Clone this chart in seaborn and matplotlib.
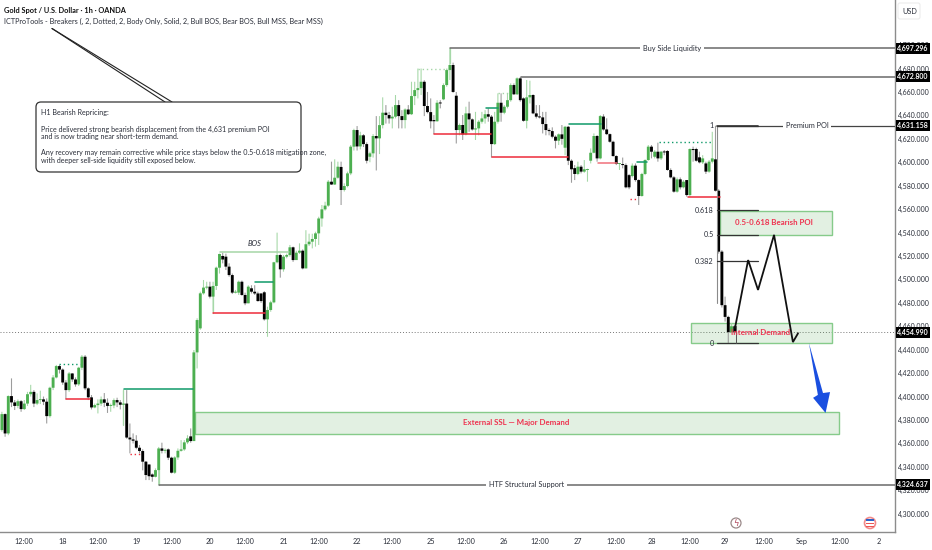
import numpy as np
import pandas as pd
import seaborn as sns
import matplotlib
matplotlib.use("Agg")
import matplotlib.pyplot as plt
from matplotlib.patches import Rectangle, FancyBboxPatch, Polygon, Circle

closes = [4385,4368.5,4400.4,4395,4392,4396,4389.3,4394,4402,4404,4394,4397,4397.6,4395.6,4383.3,4407.5,4416.3,4426,4423,4412,
 4405.5,4419.7,4414.6,4410.4,4424.6,4434,4407,4399.3,4390.7,4392.7,4394,4397.6,4394.7,4392,4392.4,4397,4395,4393,4394,4365,
 4363.4,4362.3,4356.3,4353.5,4344.4,4333,4332,4331.5,4337.2,4355.7,4353.7,4354,4347.8,4335,4348,4353.7,4354.9,4360.9,4364.3,4362,
 4437.7,4465.3,4488.1,4493,4493.8,4485.3,4494.4,4510,4521.7,4517,4510.9,4503.7,4488.7,4488.7,4498,4486.7,4479.6,4493.8,4489.5,4488,
 4481.5,4481.5,4465.9,4473.9,4480.4,4514.6,4520.8,4508.6,4519.4,4520.8,4527.4,4516.5,4522.8,4524.5,4509.4,4530,4532.2,4534.5,4539.3,4552,
 4559.8,4563,4583.4,4581,4586.8,4596.2,4576.3,4579.7,4590.5,4613.3,4627.5,4613.5,4623,4615.5,4601.3,4607.6,4622.4,4620.4,4631.7,4642.3,
 4640.3,4637.4,4638.9,4648.8,4639.4,4636,4645,4641,4656.5,4661.6,4663.3,4668.7,4648,4642.8,4635,4635,4650.8,4650.2,4665.9,4678.7,
 4683,4660,4627.5,4631.8,4623.8,4641.7,4636.6,4628,4628.9,4634.6,4637.4,4641,4638.9,4615.5,4634.6,4650.8,4642.3,4647.4,4653,4665.9,
 4658,4671.6,4653,4635.4,4655.4,4657.4,4641.7,4638.9,4638.3,4632.6,4627.5,4626.6,4621.8,4618.4,4623.8,4620,4630.3,4601.3,4594,4590,
 4596.2,4592,4594,4594,4608.1,4622.4,4603.3,4639.4,4628,4624,4617.5,4605.3,4598.5,4598.5,4597.6,4578.6,4578.6,4597.1,4584.8,4571.2,
 4590,4601.9,4613.3,4609,4609,4603.3,4609,4608.4,4593.4,4587.1,4574.9,4585.4,4578.6,4583.4,4572,4611.3,4610.4,4601.3,4599.9,4603.3,
 4592,4600.5,4603.3,4575.7,4523.7,4478,4468,4455,4460,4454.99]
highs = [4387,4385.6,4401,4415.5,4397,4397.5,4397,4397,4404,4410,4405.5,4402.7,4405,4400,4398.4,4408.4,4418.3,4427,4427,4424,
 4414,4421,4420,4416.3,4425.4,4435.4,4435.4,4407.8,4401.3,4394,4397.6,4400,4403,4398.4,4394,4398.4,4399,4397,4406,4405.5,
 4377,4368.5,4367,4358.6,4355,4345,4342,4334.4,4338.7,4357,4360.6,4355.7,4355.7,4348.6,4349,4355.7,4362.8,4362.8,4367,4372.8,
 4439.7,4466.8,4489.5,4499.5,4498,4498,4498,4510.9,4522,4522.8,4522,4513.7,4505,4491,4499,4499,4488.7,4495,4495,4495,
 4489.5,4488,4490,4476.7,4481.8,4515,4539.9,4522,4520.8,4522,4529.4,4528,4524.5,4530.8,4525.6,4542,4539,4539,4540.7,4553.5,
 4563.5,4566.3,4584.8,4600.5,4602.5,4600.5,4600.5,4582,4592,4614.7,4628.6,4630.9,4626,4624,4617,4609,4624,4639.4,4639.4,4655.4,
 4648.8,4643,4647.4,4657.4,4653,4644.5,4646,4648.8,4668.7,4668.7,4680,4680,4670,4660,4654.5,4640.3,4653,4653,4667.3,4680,
 4697.3,4685,4660,4633,4640.3,4647.4,4651.7,4637.4,4643,4636,4643,4644.5,4646,4640.3,4643,4658.8,4658.8,4648.8,4658.8,4667.3,
 4667.3,4672.4,4672.8,4655.4,4670.2,4669.6,4658,4648.8,4648.8,4643,4643,4628.9,4629.8,4623,4624.6,4631.8,4631,4631,4602.5,4597.6,
 4600.5,4597.6,4601.9,4594.5,4611.8,4624.6,4623.2,4640.3,4641,4637.5,4624.6,4618.4,4606,4599,4604,4599,4590,4599,4599,4585.4,
 4591,4602.5,4614.7,4614.7,4610.4,4616.7,4609.6,4610.4,4610.4,4594.8,4588.2,4587,4587,4584.8,4584.8,4611.8,4613.3,4612.4,4609,4606,
 4600.5,4601.9,4626,4631.16,4577,4525,4485.3,4469,4462.5,4461]
lows = [4370,4365.7,4367,4391,4388.5,4390,4387,4388.5,4392,4400,4391,4392.7,4393.6,4392.7,4377,4382,4405.5,4415.5,4419.7,4410,
 4397.6,4404,4412.6,4408.4,4409,4422.6,4405.5,4397,4389,4390,4385.6,4392,4391,4386,4387,4390,4391,4389,4375.7,4364,
 4351.5,4360,4355,4351.5,4337,4328.7,4328.7,4327.3,4331,4324.64,4351.5,4351.5,4345.8,4334.4,4334,4346,4353,4353.7,4359.4,4360.6,
 4362,4424,4457,4487,4491.5,4483.8,4472.4,4491,4505,4513.7,4508,4502.3,4487.5,4488,4486.7,4486,4478,4479.6,4488,4486.7,
 4481,4480,4464.8,4451,4472.4,4479.6,4513.7,4501.5,4506.6,4518,4519.4,4515,4518,4521.7,4508.6,4509.4,4528.5,4526.5,4528,4529.4,
 4545,4558.7,4562,4580.6,4580.6,4586,4563.5,4575,4578.6,4589,4610,4610,4611,4613,4599,4600,4604,4593,4607,4628.9,
 4633,4633,4628.9,4637.4,4628.9,4628.9,4628.9,4640.3,4640.3,4648.8,4654.5,4657.4,4639.4,4641.7,4628.9,4624,4634.6,4646,4653,4664.5,
 4670.2,4659.3,4616,4623,4619,4623,4626,4627,4619,4623,4633,4633,4634.6,4604,4614.7,4633,4634.6,4641,4646,4651.7,
 4657.4,4657.4,4651.7,4634.6,4628.9,4650.2,4641,4637.4,4637.4,4624.6,4623,4623,4620.4,4611.8,4614.7,4615,4606,4597.6,4582.5,4584.8,
 4589,4590.5,4591,4583.4,4599,4607.6,4600.5,4602.5,4627,4623.2,4616.7,4604.7,4597.6,4593.4,4594.8,4577.7,4577,4587,4583.4,4563.5,
 4570.6,4589,4601.3,4603.3,4603.3,4600.5,4601.9,4606,4592.8,4586.2,4574,4574,4576.8,4577.7,4570.6,4570.6,4600.5,4600.5,4599,4598.5,
 4590,4591,4599,4575,4522,4476,4464,4444.9,4454,4453]
first_open = 4371.4
open_overrides = {46:4342,47:4333.5,50:4355.7,52:4354.9,59:4366,62:4458.2,69:4520,70:4519.4,78:4492.4,81:4488,82:4489,
 106:4596,111:4627.5,115:4604.7,135:4636,138:4653.7,142:4656.8,156:4650.8,163:4654.5,175:4623.8,176:4612.4,177:4630.3,
 179:4595,183:4593.4,184:4601.3,188:4639,196:4589,197:4588.2,198:4597.1,204:4604.7,208:4609.6,214:4584.8,217:4611.3,
 218:4604.2,220:4599,223:4602.5}

price_ticks = list(range(4300, 4701, 20))
date_bars = [7,19,30,42,53,65,76,88,99,111,122,134,145,157,168,180,192,203,215,226,238,250,262,274]
date_labels = ["12:00","18","12:00","19","12:00","20","12:00","21","12:00","22","12:00","25","12:00","26",
               "12:00","27","12:00","28","12:00","29","12:00","Sep","12:00","2"]
tagged_prices = [4697.296, 4672.800, 4631.158, 4454.990, 4324.637]
fib_levels = ["1","0.618","0.5","0.382","0"]
fib_prices = [4631.158,4559.2,4537.9,4515.7,4445.7]
zigzag_bars = [229.1,233.2,236.3,241.3,247.2,248.8]
zigzag_prices = [4458.5,4516.5,4491,4538,4446.5,4454]
structure = [ # start bar, end bar, price, colour key, dotted
 (17.8,24.4,4427.8,"g",True),(20,27.5,4397.6,"r",False),(38.2,59.7,4406.2,"g",False),(40,43.2,4350.9,"r",True),
 (68.2,89.7,4523.6,"l",False),(79.1,84.7,4497.8,"g",False),(66,82.2,4471.5,"r",False),(130,140.3,4679.6,"l",True),
 (135,153,4623.8,"r",False),(153.2,176.9,4604.2,"r",False),(151.3,155,4646.3,"g",False),(155,158.8,4659,"l",True),
 (177.2,187.1,4632.4,"g",False),(186.3,192.2,4599.6,"p",False),(196.3,198.8,4568.3,"r",True),(198.5,201.6,4600.4,"g",False),
 (205.3,222.2,4617,"g",True),(214.4,224.4,4570.6,"r",False)]

GREEN, BLACK, WICK_G, WICK_B = "#4CAF50", "#000000", "#A6D8A8", "#9C9C9C"
INK = "#2a2e39"
FONT = ["Lato", "DejaVu Sans"]

sns.set_theme(style="white")
plt.rcParams["font.family"] = FONT
opens = [first_open] + closes[:-1]
for k, v in open_overrides.items():
    opens[k] = v
df = pd.DataFrame({"bar": np.arange(len(closes)), "o": opens, "c": closes, "h": highs, "l": lows})
df["base"] = df[["o", "c"]].min(axis=1)
df["body"] = (df.o - df.c).abs().clip(lower=0.8)
df["span"] = df.h - df.l
df["up"] = df.c >= df.o

fig = plt.figure(figsize=(9.32, 5.5), dpi=100, facecolor="white")
ax = fig.add_axes([0, 1 - 531.5 / 550, 895 / 932, 531.5 / 550])

for flag, wick, body in [(True, WICK_G, GREEN), (False, WICK_B, BLACK)]:
    sub = df[df.up == flag]
    sns.barplot(data=sub, x="bar", y="span", bottom=sub.l.values, native_scale=True, color=wick,
                width=0.34, errorbar=None, linewidth=0, saturation=1, ax=ax, zorder=2)
for flag, wick, body in [(True, WICK_G, GREEN), (False, WICK_B, BLACK)]:
    sub = df[df.up == flag]
    sns.barplot(data=sub, x="bar", y="body", bottom=sub.base.values, native_scale=True, color=body,
                width=0.9, errorbar=None, linewidth=0, saturation=1, ax=ax, zorder=3)
for p in ax.patches:
    p.set_snap(False)

XL = (-0.594, 279.1)
YL = (4284.8, 4738.5)
ax.set_xlim(XL); ax.set_ylim(YL)
ax.set_xlabel(""); ax.set_ylabel("")
ax.yaxis.tick_right()
ax.set_yticks(price_ticks)
ax.set_yticklabels([f"{p:,.3f}" for p in price_ticks], fontsize=5.0, color=INK)
ax.set_xticks(date_bars)
ax.set_xticklabels(date_labels, fontsize=5.2, color=INK)
ax.tick_params(axis="both", length=0)
ax.tick_params(axis="y", pad=2.5)
ax.tick_params(axis="x", pad=4.5)
for s in ("left", "top"):
    ax.spines[s].set_visible(False)
for s in ("right", "bottom"):
    ax.spines[s].set_color("#8c8c8c"); ax.spines[s].set_linewidth(1.0)

# zones
ZF, ZE = (0.30, 0.65, 0.30, 0.16), "#86CB8A"
for x0, x1, p0, p1 in [(60.3, 261.5, 4368, 4387), (224.4, 259.4, 4538, 4558.6), (215.3, 259.4, 4445.8, 4462.9)]:
    ax.add_patch(Rectangle((x0, p0), x1 - x0, p1 - p0, fc=ZF, ec=ZE, lw=1, zorder=1.5))

# structure lines
cols = {"g": "#109A6A", "r": "#EE2B3B", "l": "#A5D6A7", "p": "#F0707A"}
for x0, x1, p, key, dot in structure:
    ax.plot([x0, x1], [p, p], color=cols[key], lw=1.0 if dot else 1.1, ls=(0, (1, 2)) if dot else "-", zorder=4)
for x, p0, p1 in [(140, 4685, 4697.3), (49, 4324.6, 4337), (66, 4471.5, 4494), (38, 4375.7, 4406)]:
    ax.plot([x, x], [p0, p1], color=WICK_G, lw=0.9, zorder=2)
# price line
ax.axhline(4454.99, color="#777777", lw=0.7, ls=(0, (1, 2)), zorder=1)

# liquidity levels
for x0, p in [(140, 4697.296), (162.2, 4672.8), (49, 4324.637)]:
    ax.plot([x0, XL[1]], [p, p], color="#6a6a6a", lw=1.1, zorder=4)
ax.plot([223.5, XL[1]], [4631.158] * 2, color="#444444", lw=0.9, zorder=4)
ax.plot([223.5, 236.3], [4631.158] * 2, color="#333333", lw=1.2, zorder=4)
# fib
ax.plot([223.5, 223.5], [4631.158, 4480], color="#8a8a8a", lw=0.8, zorder=4)
for lab, p in zip(fib_levels, fib_prices):
    ax.plot([223.5, 236.3], [p, p], color="#333333", lw=0.9, zorder=4)
    ax.text(222.4, p, lab, ha="right", va="center", fontsize=5.2, color=INK, zorder=6)
ax.plot([229.5, 229.5], [4445.7, 4460], color="#555555", lw=0.7, zorder=4)

ax.plot(zigzag_bars, zigzag_prices, color="#111111", lw=1.3, zorder=6, solid_joinstyle="miter")
ax.add_patch(Polygon([(252.2, 4445.7), (256.6, 4403), (258.8, 4403.8), (257.4, 4386), (253.5, 4398.9), (255, 4401.4)],
                     closed=True, fc="#1A4FE0", ec="none", zorder=7))

bbox = dict(fc="white", ec="none", pad=2)
ax.text(209.4, 4697.296, "Buy Side Liquidity", ha="center", va="center", fontsize=5.3, color=INK, bbox=bbox, zorder=5)
ax.text(251.6, 4631.158, "Premium POI", ha="center", va="center", fontsize=5.3, color=INK, bbox=bbox, zorder=5)
ax.text(164, 4324.637, "HTF Structural Support", ha="center", va="center", fontsize=5.3, color=INK, bbox=bbox, zorder=5)
RED = "#EE3350"
ax.text(160.7, 4377.5, "External SSL — Major Demand", ha="center", va="center", fontsize=5.7, color=RED, weight="bold", zorder=6)
ax.text(241.4, 4548.3, "0.5-0.618 Bearish POI", ha="center", va="center", fontsize=5.7, color=RED, weight="bold", zorder=6)
ax.text(237.2, 4454.5, "Internal Demand", ha="center", va="center", fontsize=5.7, color=RED, weight="bold", zorder=6)
ax.text(79, 4528, "BOS", ha="center", va="bottom", fontsize=5.4, style="italic", color=INK, zorder=6)

# overlay in pixel space for chart furniture
ov = fig.add_axes([0, 0, 1, 1], facecolor="none")
ov.set_xlim(0, 932); ov.set_ylim(550, 0); ov.axis("off")
ov.text(4, 11, "Gold Spot / U.S. Dollar · 1h · OANDA", fontsize=5.3, weight="bold", color="#111111", va="center")
ov.text(4, 21.5, "ICTProTools - Breakers (, 2, Dotted, 2, Body Only, Solid, 2, Bull BOS, Bear BOS, Bull MSS, Bear MSS)",
        fontsize=5.2, color=INK, va="center")
ov.plot([52, 165], [28.5, 102], color="#222222", lw=0.8)
ov.plot([52, 172], [28.5, 102], color="#222222", lw=0.8)
ov.add_patch(FancyBboxPatch((39, 105), 259, 64, boxstyle="round,pad=3,rounding_size=5", fc="white", ec="#333333", lw=0.9, zorder=5))
for y, t in [(113, "H1 Bearish Repricing:"),
             (129, "Price delivered strong bearish displacement from the 4,631 premium POI"),
             (137, "and is now trading near short-term demand."),
             (152, "Any recovery may remain corrective while price stays below the 0.5-0.618 mitigation zone,"),
             (160, "with deeper sell-side liquidity still exposed below.")]:
    ov.text(41, y, t, fontsize=5.1, color=INK, va="center", zorder=6)
ov.add_patch(FancyBboxPatch((899, 4), 20, 14, boxstyle="round,pad=1,rounding_size=2", fc="white", ec="#ececec", lw=0.8))
ov.text(902, 11.5, "USD", fontsize=5.2, color=INK, va="center")
for p in tagged_prices:
    y = 68.5 + (4680 - p) * 1.1715
    ov.add_patch(Rectangle((895.5, y - 5.5), 34, 11, fc="black", ec="none", zorder=7))
    ov.text(912.5, y, f"{p:,.3f}", fontsize=5.0, weight="bold", color="white", ha="center", va="center", zorder=8)
ov.add_patch(Circle((736, 523), 5, fc="white", ec="#9b8a8a", lw=0.9))
ov.text(736, 523, "ϟ", fontsize=6, color="#B0455A", ha="center", va="center", family="DejaVu Sans")
ov.add_patch(Circle((870, 523), 5.5, fc="white", ec="#F28B8B", lw=1.2))
ov.add_patch(Rectangle((866, 519), 8, 2, fc="#2A62C9", ec="none"))
ov.add_patch(Rectangle((866, 522.5), 8, 1.4, fc="#E55", ec="none"))
ov.add_patch(Rectangle((866, 525.5), 8, 1.4, fc="#E55", ec="none"))

fig.savefig("out.png", dpi=100, facecolor="white")
